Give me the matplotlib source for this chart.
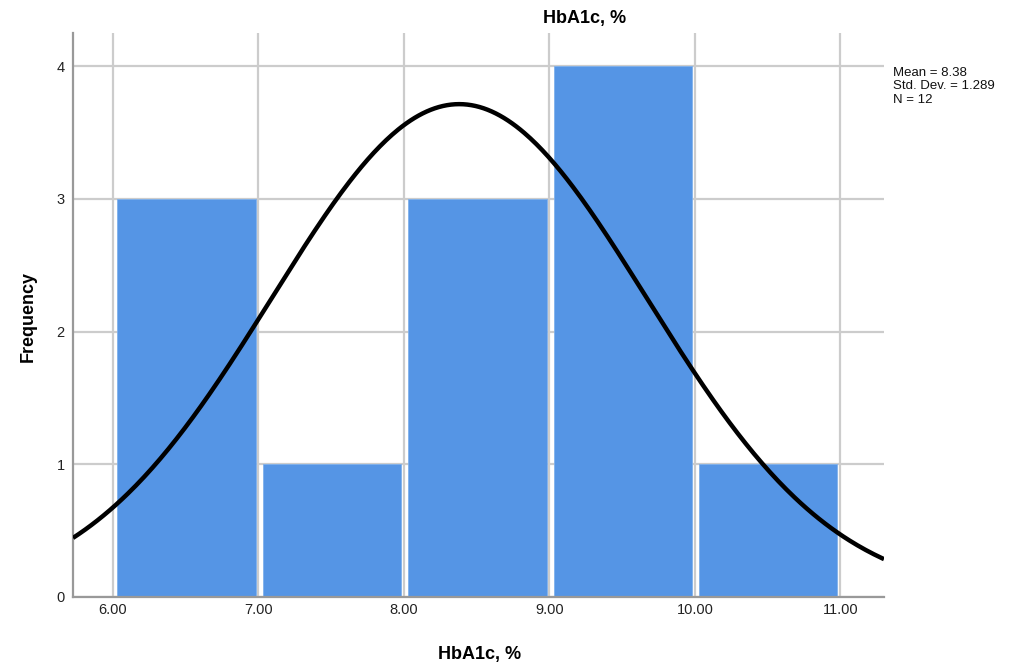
import numpy as np
import matplotlib
matplotlib.use("Agg")
import matplotlib.pyplot as plt

bin_edges = [6.0, 7.0, 8.0, 9.0, 10.0, 11.0]
counts = [3, 1, 3, 4, 1]
mean = 8.38
std = 1.289
n = 12
xticks = [6.0, 7.0, 8.0, 9.0, 10.0, 11.0]
xticklabels = ["6.00", "7.00", "8.00", "9.00", "10.00", "11.00"]
yticks = [0, 1, 2, 3, 4]

plt.rcParams['font.family'] = ['Liberation Sans', 'DejaVu Sans']

fig = plt.figure(figsize=(10.15, 6.66), dpi=100)
ax = fig.add_axes([73/1015, 69/666, (884-73)/1015, (597-33)/666])

ax.set_xlim(5.725, 11.30)
ax.set_ylim(0, 4.25)
ax.set_axisbelow(True)
ax.grid(True, color="#CCCCCC", linewidth=1.6)

inset_l = 0.03
inset_r = 0.02
lefts = np.array(bin_edges[:-1]) + inset_l
widths = np.diff(bin_edges) - inset_l - inset_r
ax.bar(lefts, counts, width=widths, align="edge", color="#5595E5",
       edgecolor="#7FB0EC", linewidth=0.6, zorder=2)

xs = np.linspace(5.725, 11.30, 400)
binw = bin_edges[1] - bin_edges[0]
ys = n * binw / (std * np.sqrt(2 * np.pi)) * np.exp(-0.5 * ((xs - mean) / std) ** 2)
ax.plot(xs, ys, color="black", linewidth=3.2, zorder=3, solid_capstyle="butt")

ax.set_xticks(xticks)
ax.set_xticklabels(xticklabels)
ax.set_yticks(yticks)
ax.tick_params(axis="x", length=0, labelsize=10.5, colors="#222222", pad=4)
ax.tick_params(axis="y", length=0, labelsize=10.5, colors="#222222", pad=6)
for s in ["top", "right"]:
    ax.spines[s].set_visible(False)
for s in ["left", "bottom"]:
    ax.spines[s].set_color("#999999")
    ax.spines[s].set_linewidth(1.6)

fig.text(585/1015, 1 - 19/666, "HbA1c, %", ha="center", va="center",
         fontsize=13, fontweight="bold")
fig.text(480/1015, 1 - 655/666, "HbA1c, %", ha="center", va="center",
         fontsize=13, fontweight="bold")
fig.text(28/1015, 1 - 316/666, "Frequency", ha="center", va="center",
         fontsize=13, fontweight="bold", rotation=90)
fig.text(893/1015, 1 - 67/666,
         "Mean = %.2f\nStd. Dev. = %.3f\nN = %d" % (mean, std, n),
         ha="left", va="top", fontsize=9.5, linespacing=1.15, color="#111111")

fig.savefig("out.png", dpi=100, facecolor="white")
